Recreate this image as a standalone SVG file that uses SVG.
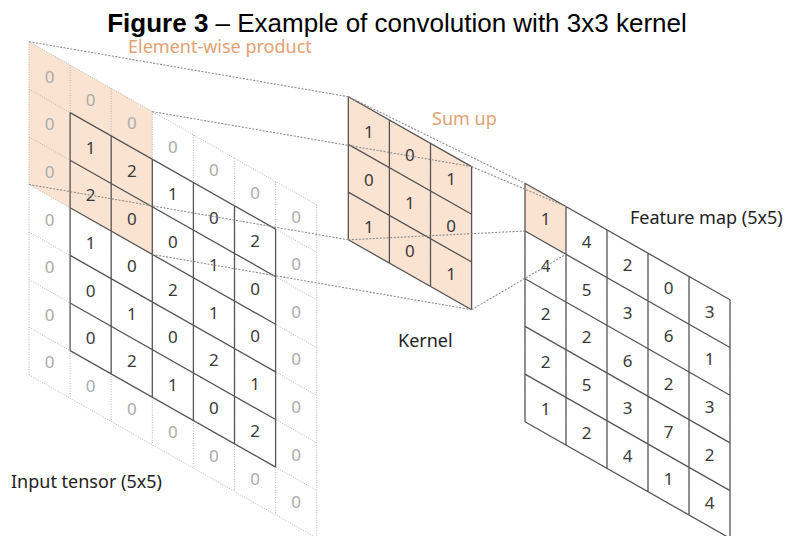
<svg xmlns="http://www.w3.org/2000/svg" width="786" height="536" viewBox="0 0 786 536">
<style>
.pad{fill:none;stroke:#b4b4b4;stroke-width:1;stroke-dasharray:1 1.5}
.grid{fill:none;stroke:#555;stroke-width:1.3}
.conn{fill:none;stroke:#8a8a8a;stroke-width:1.1;stroke-dasharray:2 1.5}
.hl{fill:#fbe3d1}
.d{font-family:"Noto Sans","DejaVu Sans",sans-serif;font-size:17px;text-anchor:middle;fill:#3a3a3a}
.z{fill:#ababab}
.lbl{font-family:"Noto Sans","DejaVu Sans",sans-serif;font-size:18px;fill:#222}
.or{fill:#e2a172}
.title{font-family:"Liberation Sans",Arial,sans-serif;font-size:26px;fill:#000;text-anchor:middle}
</style>
<rect width="786" height="536" fill="#fff"/>
<text class="title" x="397" y="32"><tspan font-weight="bold">Figure 3</tspan> – Example of convolution with 3x3 kernel</text>

<g id="input-tensor">
<polygon class="hl" points="29,41.7 152.3,111.6 152.3,254.4 29,184.5"/>
<path class="pad" d="M29,41.7V374.9M316.7,204.8V538M29,41.7L316.7,204.8M29,374.9L316.7,538
M70.1,65V112.6M70.1,350.6V398.2M111.2,88.3V135.9M111.2,373.9V421.5M152.3,111.6V159.2M152.3,397.2V444.8M193.4,134.9V182.5M193.4,420.5V468.1M234.5,158.2V205.8M234.5,443.8V491.4M275.6,181.5V229.1M275.6,467.1V514.7
M29,89.3L70.1,112.6M275.6,229.1L316.7,252.4M29,136.9L70.1,160.2M275.6,276.7L316.7,300M29,184.5L70.1,207.8M275.6,324.3L316.7,347.6M29,232.1L70.1,255.4M275.6,371.9L316.7,395.2M29,279.7L70.1,303M275.6,419.5L316.7,442.8M29,327.3L70.1,350.6M275.6,467.1L316.7,490.4"/>
<path class="grid" d="M70.1,112.6V350.6M111.2,135.9V373.9M152.3,159.2V397.2M193.4,182.5V420.5M234.5,205.8V443.8M275.6,229.1V467.1
M70.1,112.6L275.6,229.1M70.1,160.2L275.6,276.7M70.1,207.8L275.6,324.3M70.1,255.4L275.6,371.9M70.1,303L275.6,419.5M70.1,350.6L275.6,467.1"/>
<g class="d z">
<text x="49.55" y="82.85">0</text><text x="90.65" y="106.15">0</text><text x="131.75" y="129.45">0</text><text x="172.85" y="152.75">0</text><text x="213.95" y="176.05">0</text><text x="255.05" y="199.35">0</text><text x="296.15" y="222.65">0</text>
<text x="49.55" y="368.45">0</text><text x="90.65" y="391.75">0</text><text x="131.75" y="415.05">0</text><text x="172.85" y="438.35">0</text><text x="213.95" y="461.65">0</text><text x="255.05" y="484.95">0</text><text x="296.15" y="508.25">0</text>
<text x="49.55" y="130.45">0</text><text x="49.55" y="178.05">0</text><text x="49.55" y="225.65">0</text><text x="49.55" y="273.25">0</text><text x="49.55" y="320.85">0</text>
<text x="296.15" y="270.25">0</text><text x="296.15" y="317.85">0</text><text x="296.15" y="365.45">0</text><text x="296.15" y="413.05">0</text><text x="296.15" y="460.65">0</text>
</g>
<g class="d">
<text x="90.65" y="153.75">1</text><text x="131.75" y="177.05">2</text><text x="172.85" y="200.35">1</text><text x="213.95" y="223.65">0</text><text x="255.05" y="246.95">2</text>
<text x="90.65" y="201.35">2</text><text x="131.75" y="224.65">0</text><text x="172.85" y="247.95">0</text><text x="213.95" y="271.25">1</text><text x="255.05" y="294.55">0</text>
<text x="90.65" y="248.95">1</text><text x="131.75" y="272.25">0</text><text x="172.85" y="295.55">2</text><text x="213.95" y="318.85">1</text><text x="255.05" y="342.15">0</text>
<text x="90.65" y="296.55">0</text><text x="131.75" y="319.85">1</text><text x="172.85" y="343.15">0</text><text x="213.95" y="366.45">2</text><text x="255.05" y="389.75">1</text>
<text x="90.65" y="344.15">0</text><text x="131.75" y="367.45">2</text><text x="172.85" y="390.75">1</text><text x="213.95" y="414.05">0</text><text x="255.05" y="437.35">2</text>
</g>
<text class="lbl" x="11" y="488">Input tensor (5x5)</text>
<text class="lbl or" x="128" y="52.5">Element-wise product</text>
</g>

<g id="kernel">
<polygon class="hl" points="348.3,96.7 471.6,166.6 471.6,309.7 348.3,239.8"/>
<path class="grid" d="M348.3,96.7V239.8M389.4,120V263.1M430.5,143.3V286.4M471.6,166.6V309.7
M348.3,96.7L471.6,166.6M348.3,144.4L471.6,214.3M348.3,192.1L471.6,262M348.3,239.8L471.6,309.7"/>
<g class="d">
<text x="368.85" y="137.9">1</text><text x="409.95" y="161.2">0</text><text x="451.05" y="184.5">1</text>
<text x="368.85" y="185.6">0</text><text x="409.95" y="208.9">1</text><text x="451.05" y="232.2">0</text>
<text x="368.85" y="233.3">1</text><text x="409.95" y="256.6">0</text><text x="451.05" y="279.9">1</text>
</g>
<text class="lbl or" x="432" y="125">Sum up</text>
<text class="lbl" x="398" y="347">Kernel</text>
</g>

<g id="feature-map">
<polygon class="hl" points="525,183.3 566,206.6 566,254.3 525,231"/>
<path class="grid" d="M525,183.3V421.8M566,206.6V445.1M607,229.9V468.4M648,253.2V491.7M689,276.5V515M730,299.8V538.3
M525,183.3L730,299.8M525,231L730,347.5M525,278.7L730,395.2M525,326.4L730,442.9M525,374.1L730,490.6M525,421.8L730,538.3"/>
<g class="d">
<text x="545.5" y="224.5">1</text><text x="586.5" y="247.8">4</text><text x="627.5" y="271.1">2</text><text x="668.5" y="294.4">0</text><text x="709.5" y="317.7">3</text>
<text x="545.5" y="272.2">4</text><text x="586.5" y="295.5">5</text><text x="627.5" y="318.8">3</text><text x="668.5" y="342.1">6</text><text x="709.5" y="365.4">1</text>
<text x="545.5" y="319.9">2</text><text x="586.5" y="343.2">2</text><text x="627.5" y="366.5">6</text><text x="668.5" y="389.8">2</text><text x="709.5" y="413.1">3</text>
<text x="545.5" y="367.6">2</text><text x="586.5" y="390.9">5</text><text x="627.5" y="414.2">3</text><text x="668.5" y="437.5">7</text><text x="709.5" y="460.8">2</text>
<text x="545.5" y="415.3">1</text><text x="586.5" y="438.6">2</text><text x="627.5" y="461.9">4</text><text x="668.5" y="485.2">1</text><text x="709.5" y="508.5">4</text>
</g>
<text class="lbl" x="630" y="224">Feature map (5x5)</text>
</g>

<g id="connectors">
<path class="conn" d="M29,41.7L348.3,96.7M152.3,111.6L471.6,166.6M29,184.5L348.3,239.8M152.3,254.4L471.6,309.7
M348.3,96.7L525,183.3M471.6,166.6L566,206.6M348.3,239.8L525,231M471.6,309.7L566,254.3"/>
</g>
</svg>
